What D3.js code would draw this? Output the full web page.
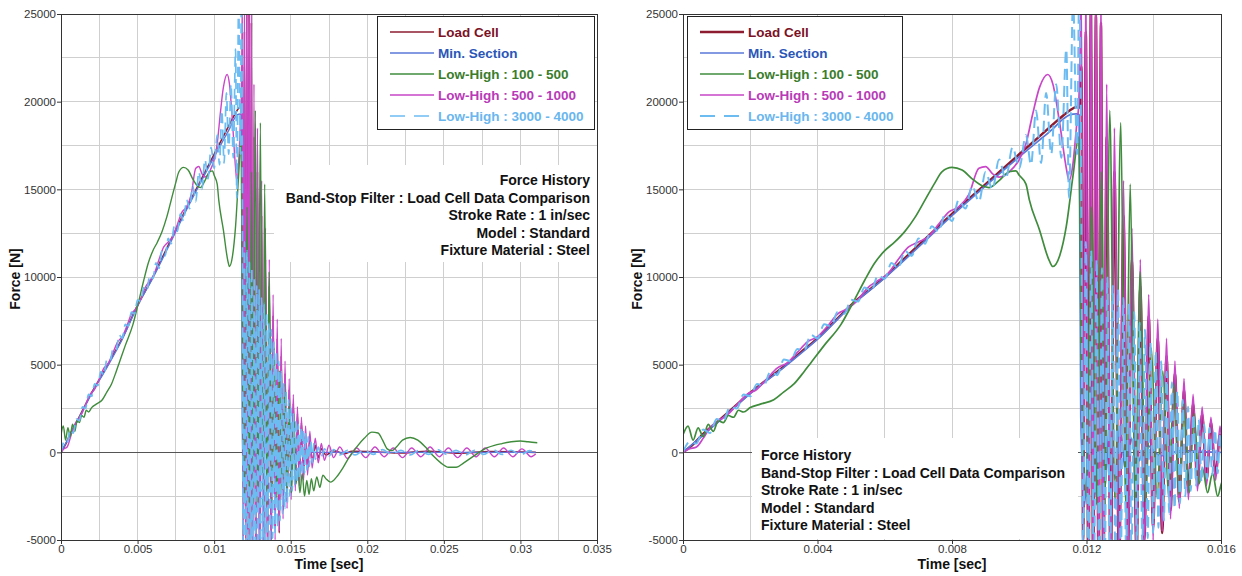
<!DOCTYPE html>
<html><head><meta charset="utf-8">
<script src="https://cdn.jsdelivr.net/npm/d3@7"></script>
<style>
body{margin:0;background:#fff}
svg{display:block}
text{font-family:"Liberation Sans",Arial,sans-serif}
</style>
</head><body>
<svg id="chart" width="1242" height="576"></svg>
<script>
// Force histories [time s, force N]
const loadCell = [[0,0],[0.0003,450],[0.0006,1050],[0.001,1700],[0.0015,2550],[0.002,3400],[0.0025,4150],[0.003,4900],[0.0035,5700],[0.004,6500],[0.0045,7450],[0.005,8400],[0.0055,9200],[0.006,10000],[0.0065,10900],[0.007,11800],[0.0075,12700],[0.008,13600],[0.0085,14450],[0.009,15300],[0.0095,16150],[0.01,17000],[0.0105,17850],[0.011,18700],[0.0113,19200],[0.0115,19500],[0.0117,19700],[0.01178,19650],
  [0.01185,22000],[0.0119,-5000],[0.01198,24000],[0.01206,-7000],[0.01213,25500],[0.0122,-8000],[0.01228,25000],[0.01236,-8000],[0.01243,24500],[0.0125,-7500],[0.0126,18000],[0.01272,-7000],[0.01283,16000],[0.01297,-6500],[0.0131,13500],[0.01323,-6000],[0.01335,11000],[0.01349,-6000],[0.0136,9500],[0.01372,-5000],[0.01385,7800],[0.01398,-4300],[0.01412,6500],[0.01425,-4600],[0.01438,5500],[0.0145,-3300],[0.01463,4500],[0.01476,-2800],[0.0149,3600],[0.01503,-2300],[0.01517,2800],[0.0153,-1900],[0.01544,2200],[0.01557,-1600],[0.0157,1700],[0.01584,-1300],[0.01597,1000],[0.0161,-900],[0.01625,700],[0.0164,-600],[0.0166,400],[0.0168,-300],[0.017,200],[0.0173,-150],[0.0178,100],[0.0185,-80],[0.019,60],[0.02,50],[0.022,-40],[0.024,60],[0.026,-50],[0.028,40],[0.031,0]];

const minSection = [[0,0],[0.001,1650],[0.002,3350],[0.003,4850],[0.004,6450],[0.005,8350],[0.006,9950],[0.007,11700],[0.008,13500],[0.009,15200],[0.01,16850],[0.0105,17650],[0.011,18450],[0.0113,19000],[0.0115,19250],[0.0117,19300],[0.01178,19250],
  [0.01183,2000],[0.01195,-3000],[0.0121,4000],[0.01225,-2500],[0.0124,3000],[0.01255,-2000],[0.0127,2200],[0.01285,-1500],[0.013,1500],[0.01315,-1000],[0.0133,900],[0.0135,-600],[0.0138,400],[0.0142,-200],[0.0148,100],[0.016,0],[0.031,0]];

const lowHigh100_500 = [[0,1000],[0.00015,1500],[0.0003,700],[0.00045,1400],[0.0006,900],[0.00075,1600],[0.0009,1200],[0.00105,1800],[0.0012,1700],[0.00135,2100],[0.0015,2000],[0.00165,2400],[0.0018,2300],[0.002,2550],[0.0023,2750],[0.0027,3000],[0.003,3450],[0.0033,3900],[0.0036,4600],[0.0038,5100],[0.0042,6100],[0.0047,7300],[0.0051,8700],[0.0054,9800],[0.0057,10800],[0.006,11500],[0.0063,12000],[0.0066,12600],[0.0069,13400],[0.0072,14400],[0.0075,15400],[0.0077,16000],[0.008,16250],[0.0083,16100],[0.0086,15600],[0.0089,15200],[0.0091,15100],[0.0094,15500],[0.0097,16000],[0.0099,16050],[0.01,15800],[0.0102,15300],[0.0103,14400],[0.0106,12700],[0.0109,10900],[0.011,10600],[0.0112,11200],[0.0114,12900],[0.0116,15800],[0.01177,18000],
  [0.01185,5000],[0.012,-2500],[0.01215,14000],[0.0123,-3000],[0.01245,16000],[0.01255,-3000],[0.01269,19500],[0.01285,-3000],[0.01302,18800],[0.01316,-3000],[0.0133,15300],[0.01345,-3000],[0.01359,10300],[0.01376,-2800],[0.01393,5950],[0.0141,-2600],[0.01427,4650],[0.01444,-2500],[0.0146,3900],[0.01475,-2400],[0.0149,2800],[0.01505,-2300],[0.0152,2200],[0.01535,-1800],[0.01545,-900],[0.0156,-2300],[0.01575,-1200],[0.0159,-2500],[0.01605,-1600],[0.0162,-2400],[0.01635,-1500],[0.0165,-2200],[0.0167,-1400],[0.0169,-2000],[0.0171,-1300],[0.0173,-1500],[0.0176,-1700],[0.018,-1400],[0.0184,-900],[0.0188,-300],[0.0193,300],[0.0198,800],[0.0203,1150],[0.0207,1100],[0.021,700],[0.0213,200],[0.0216,100],[0.0219,300],[0.0223,700],[0.0228,850],[0.0233,700],[0.0238,300],[0.0243,-200],[0.0248,-600],[0.0253,-850],[0.0258,-850],[0.0263,-600],[0.0268,-300],[0.0273,0],[0.0278,250],[0.0283,400],[0.0288,500],[0.0294,600],[0.03,650],[0.0305,600],[0.0311,550]];

const lowHigh500_1000 = [[0,0],[0.0002,200],[0.0004,300],[0.0006,800],[0.0008,1400],[0.001,1750],[0.0013,2100],[0.0016,2700],[0.0019,3300],[0.0022,3600],[0.0025,4200],[0.0028,4800],[0.0031,5100],[0.0034,5700],[0.0037,6300],[0.004,6600],[0.0043,7200],[0.0046,7900],[0.0049,8200],[0.0052,8700],[0.0055,9400],[0.0058,9800],[0.0061,10200],[0.0064,11000],[0.0067,11700],[0.007,12000],[0.0073,12300],[0.0076,13000],[0.0079,13700],[0.0082,14000],[0.0085,14700],[0.0088,16200],[0.009,16300],[0.0092,15900],[0.0094,15700],[0.0097,16000],[0.01,16700],[0.0102,17600],[0.0104,19300],[0.0106,20800],[0.01085,21550],[0.011,21000],[0.0112,18800],[0.0114,16200],[0.01148,15500],[0.0116,16500],[0.0117,18500],[0.01178,20200],
  [0.01185,26000],[0.0119,-6000],[0.01198,27000],[0.01206,-8000],[0.01213,28000],[0.0122,-9000],[0.01228,27500],[0.01236,-9000],[0.01243,27000],[0.0125,-8500],[0.0126,21000],[0.01272,-8000],[0.01283,18500],[0.01297,-7500],[0.0131,15500],[0.01323,-7000],[0.01335,12800],[0.01349,-6500],[0.0136,11000],[0.01372,-5800],[0.01385,9000],[0.01398,-5000],[0.01412,7600],[0.01425,-4500],[0.01438,6500],[0.0145,-3800],[0.01463,5200],[0.01476,-3200],[0.0149,4200],[0.01503,-2700],[0.01517,3300],[0.0153,-2200],[0.01544,2600],[0.01557,-1900],[0.0157,2000],[0.01584,-1600],[0.01597,1500],[0.0161,-1300],[0.01625,1200],[0.0164,-900],[0.0166,800],[0.0168,-600],[0.017,500],[0.0172,-450],[0.0175,400],[0.0178,-300],[0.0182,300],[0.0187,-350],[0.0193,250],[0.0199,-300],[0.0205,300],[0.0211,-250],[0.0217,250],[0.0223,-300],[0.0229,250],[0.0235,-250],[0.0241,300],[0.0247,-250],[0.0253,250],[0.0259,-300],[0.0265,250],[0.0271,-250],[0.0277,250],[0.0283,-250],[0.0289,250],[0.0295,-250],[0.0301,200],[0.0307,-250],[0.031,-100]];

const lowHigh3000_4000 = [[0,0],[0.0002,600],[0.0004,500],[0.0006,1300],[0.0008,1100],[0.001,1900],[0.0012,1800],[0.0014,2600],[0.0016,2500],[0.0018,3300],[0.002,3200],[0.0022,3900],[0.0024,3800],[0.0026,4600],[0.0028,4400],[0.003,5300],[0.0032,5200],[0.0034,5900],[0.0036,5800],[0.0038,6700],[0.004,6500],[0.0042,7300],[0.0044,7200],[0.0046,8000],[0.0048,7900],[0.005,8700],[0.0052,8600],[0.0054,9400],[0.0056,9200],[0.0058,10100],[0.006,9900],[0.0062,10800],[0.0064,10500],[0.0066,11500],[0.0068,11200],[0.007,12200],[0.0072,11900],[0.0074,12900],[0.0076,12600],[0.0078,13600],[0.008,13200],[0.0082,14400],[0.0084,13900],[0.0086,15200],[0.0088,14300],[0.009,16000],[0.0092,15000],[0.0094,16700],[0.0096,15600],[0.0098,17400],[0.01,16200],[0.0102,18100],[0.01035,16400],[0.0105,19500],[0.01065,16500],[0.0108,20500],[0.01095,17000],[0.0111,21000],[0.01125,16800],[0.0114,23000],[0.01148,14500],[0.0116,25800],[0.01172,17000],[0.01178,26000],
  [0.01183,20000],[0.0119,-7000],[0.01198,12000],[0.01206,-8000],[0.01214,11500],[0.01222,-8000],[0.0123,11000],[0.01238,-8000],[0.01246,10500],[0.01254,-7500],[0.01262,10000],[0.0127,-7000],[0.01278,9500],[0.01286,-6800],[0.01294,9300],[0.01302,-6500],[0.0131,8800],[0.01318,-6200],[0.01326,8500],[0.01334,-6000],[0.01342,8000],[0.0135,-5600],[0.01358,7400],[0.01366,-5200],[0.01374,7000],[0.01382,-4900],[0.0139,6300],[0.01398,-4600],[0.01406,5800],[0.01414,-4300],[0.01422,5200],[0.0143,-3900],[0.01438,4600],[0.01446,-3500],[0.01454,4000],[0.01462,-3200],[0.0147,3500],[0.01478,-2900],[0.01486,3000],[0.01494,-2500],[0.01502,2600],[0.0151,-2200],[0.01518,2200],[0.01526,-1900],[0.01534,1900],[0.01542,-1700],[0.0155,1600],[0.01558,-1500],[0.01566,1400],[0.01574,-1300],[0.01582,1300],[0.0159,-1200],[0.01598,1100],[0.01606,-1000],[0.01614,900],[0.01622,-800],[0.0163,700],[0.0164,-600],[0.0165,500],[0.0166,-400],[0.0168,300],[0.017,-250],[0.0172,200],[0.0175,-200],[0.0178,150],[0.0182,-150],[0.0187,120],[0.0192,-150],[0.0198,120],[0.0204,-120],[0.021,150],[0.0216,-120],[0.0222,120],[0.0228,-150],[0.0234,120],[0.024,-120],[0.0246,150],[0.0252,-120],[0.0258,120],[0.0264,-150],[0.027,120],[0.0276,-120],[0.0282,150],[0.0288,-120],[0.0294,120],[0.03,-150],[0.0306,100],[0.031,-50]];

const seriesNames = ["Load Cell","Min. Section","Low-High : 100 - 500","Low-High : 500 - 1000","Low-High : 3000 - 4000"];
const seriesData = [loadCell, minSection, lowHigh100_500, lowHigh500_1000, lowHigh3000_4000];
// stacking order of the curves (index into seriesData), bottom first
const drawOrder = [0, 1, 3, 2, 4];

const yTicks = [-5000,0,5000,10000,15000,20000,25000];
const yTickLabels = ["-5000","0","5000","10000","15000","20000","25000"];
const leftXTicks = [0,0.005,0.01,0.015,0.02,0.025,0.03,0.035];
const leftXTickLabels = ["0","0.005","0.01","0.015","0.02","0.025","0.03","0.035"];
const rightXTicks = [0,0.004,0.008,0.012,0.016];
const rightXTickLabels = ["0","0.004","0.008","0.012","0.016"];
const noteLines = ["Force History","Band-Stop Filter : Load Cell Data Comparison","Stroke Rate : 1 in/sec","Model : Standard","Fixture Material : Steel"];

// styles per series
const lineColors = ["#8e1c30","#5a78d8","#3f8c3c","#c946c9","#6cbcf2"];
const textColors = ["#7c1226","#2a56b8","#3a7d2c","#b83ab8","#6ab6ee"];

const panels = [
  {left:61,right:597,xMax:0.035,xTicks:leftXTicks,xLabels:leftXTickLabels,gridStep:0.0025,
   widths:[1.6,1.4,1.4,1.4,1.7],dash:"10,6",
   legend:{x:377,y:16,w:217,h:113},
   note:{box:[274,165,323,97],x:590,y:185,anchor:"end"}},
  {left:683,right:1221,xMax:0.016,xTicks:rightXTicks,xLabels:rightXTickLabels,gridStep:0.002,
   widths:[2.5,1.7,1.7,1.7,2],dash:"11,6",
   legend:{x:687,y:16,w:215,h:113},
   note:{box:[752,438,326,101],x:761,y:460,anchor:"start"}}
];

const plotTop = 14, plotBottom = 540;
const svg = d3.select("#chart");

panels.forEach((p, pi) => {
  const x = d3.scaleLinear().domain([0, p.xMax]).range([p.left, p.right]);
  const y = d3.scaleLinear().domain([-5000, 25000]).range([plotBottom, plotTop]);
  const g = svg.append("g");

  // grid
  const xGrid = d3.range(0, p.xMax + 1e-9, p.gridStep);
  const yGrid = d3.range(-5000, 25001, 2500);
  g.append("g").selectAll("line").data(xGrid).join("line")
    .attr("x1", d => x(d)).attr("x2", d => x(d)).attr("y1", plotTop).attr("y2", plotBottom)
    .attr("stroke", "#cfcfcf").attr("stroke-width", 1).attr("shape-rendering","crispEdges");
  g.append("g").selectAll("line").data(yGrid).join("line")
    .attr("x1", p.left).attr("x2", p.right).attr("y1", d => y(d)).attr("y2", d => y(d))
    .attr("stroke", "#cfcfcf").attr("stroke-width", 1).attr("shape-rendering","crispEdges");

  // zero line
  g.append("line").attr("x1", p.left).attr("x2", p.right).attr("y1", y(0)).attr("y2", y(0))
    .attr("stroke", "#555").attr("stroke-width", 1).attr("shape-rendering","crispEdges");

  // annotation backing box
  const nb = p.note.box;
  g.append("rect").attr("x", nb[0]).attr("y", nb[1]).attr("width", nb[2]).attr("height", nb[3]).attr("fill", "#fff");

  // curves
  const clipId = "clip" + pi;
  svg.append("clipPath").attr("id", clipId).append("rect")
    .attr("x", p.left).attr("y", plotTop).attr("width", p.right - p.left).attr("height", plotBottom - plotTop);
  const line = d3.line().x(d => x(d[0])).y(d => y(d[1])).curve(d3.curveMonotoneX);
  const cg = g.append("g").attr("clip-path", `url(#${clipId})`);
  drawOrder.forEach(i => {
    cg.append("path").datum(seriesData[i]).attr("d", line)
      .attr("fill", "none").attr("stroke", lineColors[i]).attr("stroke-width", p.widths[i])
      .attr("stroke-linejoin", "round")
      .attr("stroke-dasharray", i === 4 ? p.dash : null);
  });

  // frame
  g.append("rect").attr("x", p.left).attr("y", plotTop).attr("width", p.right - p.left).attr("height", plotBottom - plotTop)
    .attr("fill", "none").attr("stroke", "#333").attr("stroke-width", 1).attr("shape-rendering","crispEdges");

  // axes
  const ya = d3.axisLeft(y).tickValues(yTicks).tickFormat((d, i) => yTickLabels[i]).tickSize(4).tickPadding(1);
  const yg = g.append("g").attr("transform", `translate(${p.left},0)`).call(ya);
  const xa = d3.axisBottom(x).tickValues(p.xTicks).tickFormat((d, i) => p.xLabels[i]).tickSize(4).tickPadding(1);
  const xg = g.append("g").attr("transform", `translate(0,${plotBottom})`).call(xa);
  [yg, xg].forEach(a => {
    a.select(".domain").remove();
    a.selectAll(".tick line").attr("stroke", "#333");
    a.selectAll(".tick text").attr("fill", "#333").attr("font-size", 11.5).attr("font-family", '"Liberation Sans",Arial,sans-serif');
  });

  // axis titles
  g.append("text").attr("x", (p.left + p.right) / 2).attr("y", 569).attr("text-anchor", "middle")
    .attr("font-size", 14).attr("font-weight", "bold").attr("fill", "#111").text("Time [sec]");
  g.append("text").attr("transform", `translate(${p.left - 41},${(plotTop + plotBottom) / 2 + 2}) rotate(-90)`)
    .attr("text-anchor", "middle").attr("font-size", 14).attr("font-weight", "bold").attr("fill", "#111").text("Force [N]");

  // legend
  const L = p.legend;
  const lg = g.append("g");
  lg.append("rect").attr("x", L.x).attr("y", L.y).attr("width", L.w).attr("height", L.h)
    .attr("fill", "#fff").attr("stroke", "#222").attr("stroke-width", 1).attr("shape-rendering","crispEdges");
  seriesNames.forEach((name, i) => {
    const cy = L.y + 16 + i * 21;
    lg.append("line").attr("x1", L.x + 13).attr("x2", L.x + 57).attr("y1", cy).attr("y2", cy)
      .attr("stroke", lineColors[i]).attr("stroke-width", p.widths[i])
      .attr("stroke-dasharray", i === 4 ? "15,9" : null);
    lg.append("text").attr("x", L.x + 61).attr("y", cy + 5).attr("font-size", 13.5).attr("font-weight", "bold")
      .attr("fill", textColors[i]).text(name);
  });

  // annotation text
  noteLines.forEach((t, i) => {
    g.append("text").attr("x", p.note.x).attr("y", p.note.y + i * 17.5).attr("text-anchor", p.note.anchor)
      .attr("font-size", 14).attr("font-weight", "bold").attr("fill", "#111").text(t);
  });
});
</script>
</body></html>
